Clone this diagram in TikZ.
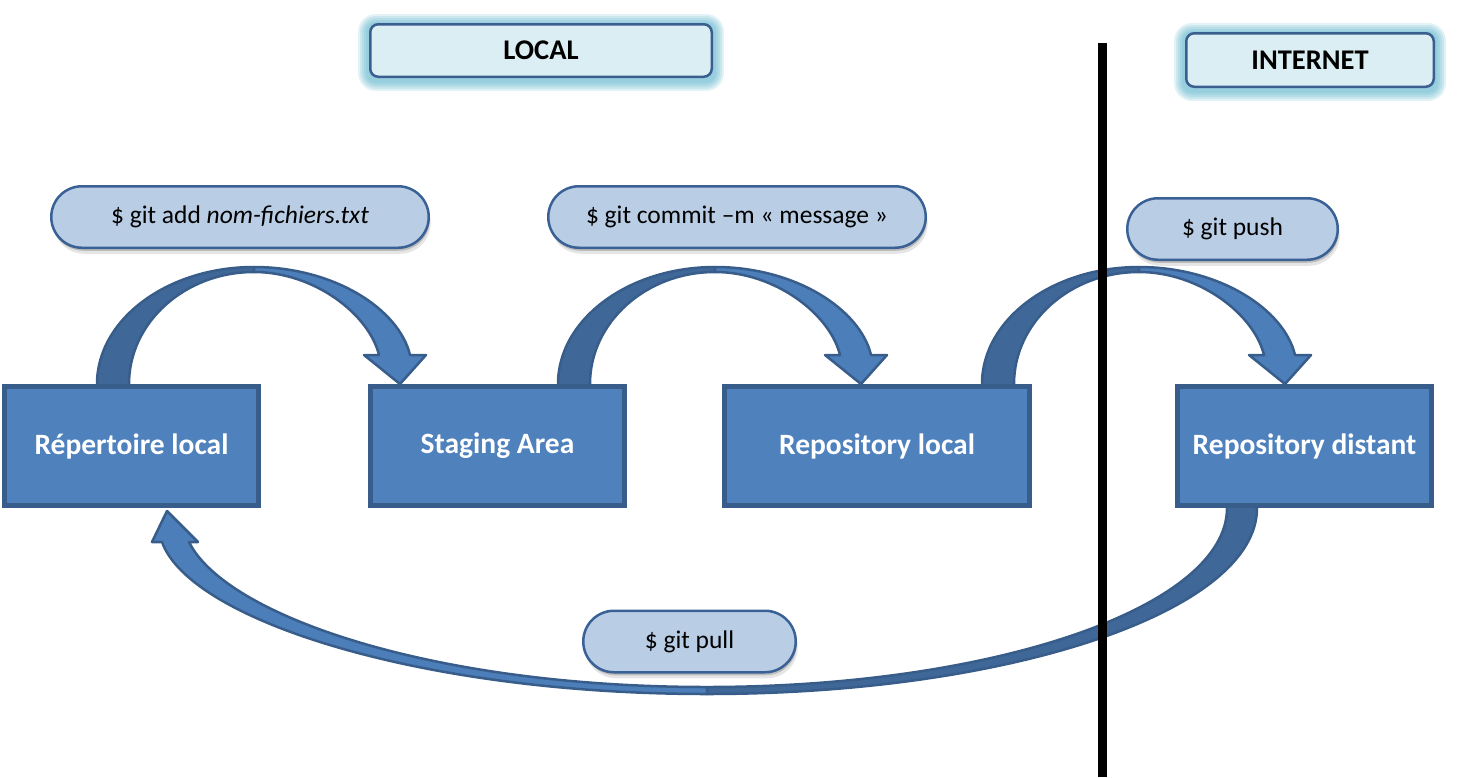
\documentclass[tikz,border=0pt]{standalone}
\usepackage{fontspec}
\setmainfont{Carlito}
\usetikzlibrary{shapes.misc,shadows,calc}
\definecolor{boxfill}{HTML}{4F81BD}
\definecolor{boxline}{HTML}{385D8A}
\definecolor{arrowdark}{HTML}{3F6797}
\definecolor{arrowlight}{HTML}{4C7EBA}
\definecolor{cmdfill}{HTML}{B9CDE5}
\definecolor{cmdline}{HTML}{3A6196}
\definecolor{hdrfill}{HTML}{DBEEF4}
\definecolor{hdrline}{HTML}{3A5F8F}
\definecolor{glowc}{HTML}{4BACC6}
\pgfdeclarelayer{bg}
\pgfsetlayers{bg,main}
\tikzset{
  bluebox/.style={draw=boxline, fill=boxfill, line width=5pt, inner sep=0pt,
    text=white, font=\fontsize{29.5}{34}\selectfont\bfseries, minimum height=119pt},
  cmd/.style={rounded rectangle, draw=cmdline, fill=cmdfill, line width=2.5pt,
    inner sep=0pt, minimum height=61.5pt, font=\fontsize{25.5}{30}\selectfont,
    drop shadow={shadow xshift=2pt, shadow yshift=-6pt, opacity=.10, fill=black},
    drop shadow={shadow xshift=1pt, shadow yshift=-3pt, opacity=.18, fill=black}},
  header/.style={draw=hdrline, fill=hdrfill, rounded corners=8pt, line width=2.5pt,
    inner sep=0pt, font=\fontsize{28.5}{34}\selectfont\bfseries},
  darkpart/.style={fill=arrowdark, draw=boxline, line width=2.5pt, line join=round},
  lightpart/.style={fill=arrowlight, draw=boxline, line width=2.5pt, line join=round},
  curvedarrow/.pic={
    \filldraw[darkpart] (-157,3) -- (-157,0) .. controls (-157,-64.6) and (-86.7,-117) .. (0,-117)
      -- (0,-112) .. controls (-69,-112) and (-125,-61.8) .. (-125,0) -- (-125,3) -- cycle;
    \filldraw[lightpart] (0,-117) .. controls (80,-117) and (145,-75) .. (156,-29)
      -- (172,-29) -- (146,0) -- (110,-29) -- (125,-29)
      .. controls (115,-70) and (60,-112) .. (0,-112) -- cycle;
  }
}
\begin{document}
\begin{tikzpicture}[x=1pt,y=-1pt]
\useasboundingbox (0,0) rectangle (1463,777);

% curved block arrows (behind boxes)
\pic at (254,384) {curvedarrow};
\pic at (715,384) {curvedarrow};
\pic at (1139,384) {curvedarrow};

% pull arrow
\filldraw[darkpart] (1257,505) -- (1257,508) .. controls (1257,611) and (1011,694) .. (707,694)
  -- (707,687) .. controls (994,687) and (1227,607) .. (1227,508) -- (1227,505) -- cycle;
\filldraw[lightpart] (707,694) .. controls (420,694) and (190,620) .. (162,542)
  -- (152,542) -- (167,511) -- (198,542) -- (189,542)
  .. controls (225,615) and (430,687) .. (707,687) -- cycle;

% boxes
\node[bluebox, minimum width=254pt] (rep)  at (131.5,446) {Répertoire local};
\node[bluebox, minimum width=254pt] (stag) at (497.5,446) {Staging Area};
\node[bluebox, minimum width=305pt] (repl) at (877,446)   {Repository local};
\node[bluebox, minimum width=254pt] (repd) at (1304.5,446) {Repository distant};

% separator line
\coordinate (sepTop) at (1102.5,43);
\coordinate (sepBot) at (1102.5,777);
\draw[line width=9pt] (sepTop) -- (sepBot);

% commands
\node[cmd, minimum width=377.5pt] (add)    at (240,217)    {\$ git add \textit{nom-fichiers.txt}};
\node[cmd, minimum width=377.5pt] (commit) at (737,217)    {\$ git commit –m « message »};
\node[cmd, minimum width=210.5pt] (push)   at (1232.5,229) {\$ git push};
\node[cmd, minimum width=212.5pt] (pull)   at (689.5,641.5) {\$ git pull};

% headers
\node[header, minimum width=341.5pt, minimum height=52.5pt] (local) at (541,50.5) {LOCAL};
\node[header, minimum width=247.5pt, minimum height=53.5pt] (inet) at (1310,60) {INTERNET};

\begin{pgfonlayer}{bg}
  \foreach \n in {local,inet}{
    \foreach \k/\r in {11/18,9/16,7/14,5/12,3/10}{
      \fill[glowc, opacity=0.16, rounded corners=\r pt]
        ([shift={(-\k pt,-\k pt-2pt)}]\n.south west) rectangle ([shift={(\k pt,\k pt-2pt)}]\n.north east);
    }
  }
\end{pgfonlayer}
\end{tikzpicture}
\end{document}
